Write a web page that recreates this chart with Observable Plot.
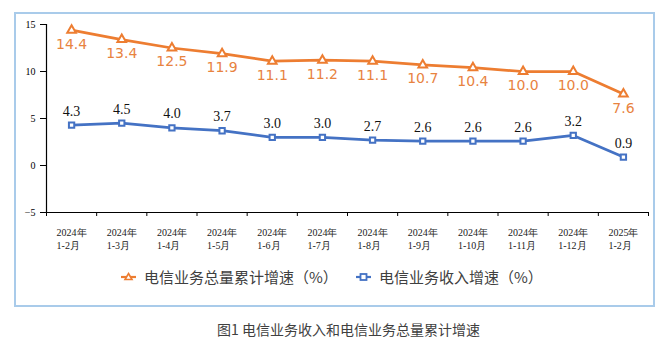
<!DOCTYPE html>
<html>
<head>
<meta charset="utf-8">
<script src="https://cdn.jsdelivr.net/npm/d3@7"></script>
<script src="https://cdn.jsdelivr.net/npm/@observablehq/plot@0.6"></script>
<style>
  body { margin: 0; background: #fff; }
  #wrap { position: relative; width: 669px; height: 352px; overflow: hidden; }
  #frame { position: absolute; left: 14px; top: 12px; width: 637px; height: 291px; border: 2px solid #A9CBEA; }
  #chart { position: absolute; left: 0; top: 0; }
  .leg { position: absolute; top: 266px; font-family: "Noto Sans CJK SC", sans-serif; font-size: 15px; color: #404040; display: flex; align-items: center; white-space: nowrap; }
  .leg svg { margin-right: 8px; }
  #caption { position: absolute; left: 217px; top: 319px; font-family: "Noto Sans CJK SC", sans-serif; font-size: 14px; color: #404040; white-space: nowrap; }
</style>
</head>
<body>
<div id="wrap">
  <div id="frame"></div>
  <div id="chart"></div>
  <div class="leg" id="leg1" style="left:121px"></div>
  <div class="leg" id="leg2" style="left:356px"></div>
  <div id="caption"></div>
</div>
<script>
const years = ["2024年","2024年","2024年","2024年","2024年","2024年","2024年","2024年","2024年","2024年","2024年","2025年"];
const months = ["1-2月","1-3月","1-4月","1-5月","1-6月","1-7月","1-8月","1-9月","1-10月","1-11月","1-12月","1-2月"];
const volumeGrowth = [14.4, 13.4, 12.5, 11.9, 11.1, 11.2, 11.1, 10.7, 10.4, 10.0, 10.0, 7.6];
const revenueGrowth = [4.3, 4.5, 4.0, 3.7, 3.0, 3.0, 2.7, 2.6, 2.6, 2.6, 3.2, 0.9];
const yTicks = [-5, 0, 5, 10, 15];
const seriesNames = ["电信业务总量累计增速（%）", "电信业务收入增速（%）"];
const captionText = "图1 电信业务收入和电信业务总量累计增速";

const ORANGE = "#ED7D31";
const BLUE = "#4472C4";
const rows = years.map((y, i) => ({i, year: y, month: months[i], vol: volumeGrowth[i], rev: revenueGrowth[i]}));
const boundaries = d3.range(-0.5, years.length, 1);
const fmt = d3.format(".1f");
const serif = "'Liberation Serif', 'Times New Roman', serif";

const plot = Plot.plot({
  width: 669,
  height: 250,
  marginLeft: 46,
  marginRight: 21,
  marginTop: 24,
  marginBottom: 38,
  style: {background: "transparent", overflow: "visible"},
  x: {type: "linear", domain: [-0.5, years.length - 0.5]},
  y: {domain: [-5, 15]},
  marks: [
    Plot.axisY({ticks: yTicks, tickSize: 6, tickPadding: 5, fontFamily: serif, fontSize: 10, fill: "#000", label: null}),
    Plot.axisX({ticks: boundaries, tickSize: 4, tickFormat: () => "", label: null}),
    Plot.ruleX([-0.5], {stroke: "#000", strokeWidth: 1.2}),
    Plot.ruleY([-5], {stroke: "#000", strokeWidth: 1.2}),
    Plot.text(rows, {x: "i", text: d => d.year + "\n" + d.month, frameAnchor: "bottom", lineAnchor: "top", textAnchor: "start", dx: -15, dy: 14, lineHeight: 1.3, fontFamily: serif, fontSize: 10, fill: "#222"}),
    Plot.line(rows, {x: "i", y: "vol", stroke: ORANGE, strokeWidth: 2.75}),
    Plot.line(rows, {x: "i", y: "rev", stroke: BLUE, strokeWidth: 2.75}),
    Plot.dot(rows, {x: "i", y: "vol", symbol: "triangle", r: 3.2, fill: "white", stroke: ORANGE, strokeWidth: 2}),
    Plot.dot(rows, {x: "i", y: "rev", symbol: "square", r: 3, fill: "white", stroke: BLUE, strokeWidth: 2}),
    Plot.text(rows, {x: "i", y: "vol", text: d => fmt(d.vol), dy: 14, fill: "#E8833F", fontFamily: "'DejaVu Sans', sans-serif", fontSize: 14}),
    Plot.text(rows, {x: "i", y: "rev", text: d => fmt(d.rev), dy: -14, fill: "#111", fontFamily: serif, fontSize: 14})
  ]
});
document.getElementById("chart").appendChild(plot);

function swatch(color, symbol) {
  const s = symbol === "triangle"
    ? `<path d="M7.5,2.5 L11,8.5 L4,8.5 Z" fill="white" stroke="${color}" stroke-width="1.6"/>`
    : `<rect x="4.5" y="3" width="6" height="6" fill="white" stroke="${color}" stroke-width="1.8"/>`;
  return `<svg width="15" height="12" viewBox="0 0 15 12"><line x1="0" x2="15" y1="6" y2="6" stroke="${color}" stroke-width="2.2"/>${s}</svg>`;
}
document.getElementById("leg1").innerHTML = swatch(ORANGE, "triangle") + `<span>${seriesNames[0]}</span>`;
document.getElementById("leg2").innerHTML = swatch(BLUE, "square") + `<span>${seriesNames[1]}</span>`;
document.getElementById("caption").textContent = captionText;
</script>
</body>
</html>
